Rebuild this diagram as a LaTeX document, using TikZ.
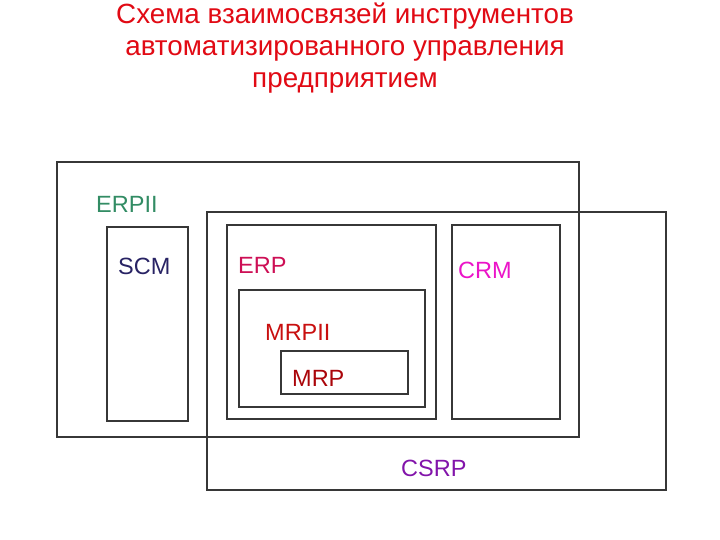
\documentclass[tikz,border=0pt]{standalone}
\usepackage{fontspec}
\setmainfont{Liberation Sans}
\definecolor{titlered}{RGB}{225,10,20}
\definecolor{erpii}{RGB}{50,140,100}
\definecolor{scm}{RGB}{40,35,100}
\definecolor{erp}{RGB}{205,15,85}
\definecolor{crm}{RGB}{235,20,200}
\definecolor{mrpii}{RGB}{200,15,15}
\definecolor{mrp}{RGB}{170,5,10}
\definecolor{csrp}{RGB}{130,20,170}
\definecolor{frame}{RGB}{55,55,55}
\tikzset{
  box/.style={draw=frame, line width=1.3pt},
  lbl/.style={anchor=west, inner sep=0pt, font=\fontsize{23.5}{28}\selectfont},
}
\begin{document}
\begin{tikzpicture}[x=1pt,y=-1pt]
\useasboundingbox (0,0) rectangle (720,540);
\node[align=center, text=titlered, font=\fontsize{27.8}{32}\selectfont, inner sep=0pt] (title) at (345,48)
  {Схема взаимосвязей инструментов\\автоматизированного управления\\предприятием};
\draw[box] (57,162) rectangle (579,437);
\draw[box] (207,212) rectangle (666,490);
\draw[box] (107,227) rectangle (188,421);
\draw[box] (227,225) rectangle (436,419);
\draw[box] (452,225) rectangle (560,419);
\draw[box] (239,290) rectangle (425,407);
\draw[box] (281,351) rectangle (408,394);
\node[lbl, text=erpii] (lerpii) at (96,204) {ERPII};
\node[lbl, text=scm] (lscm) at (118,266) {SCM};
\node[lbl, text=erp] (lerp) at (238,265) {ERP};
\node[lbl, text=crm] (lcrm) at (458,270) {CRM};
\node[lbl, text=mrpii] (lmrpii) at (265,332) {MRPII};
\node[lbl, text=mrp] (lmrp) at (292,378) {MRP};
\node[lbl, text=csrp] (lcsrp) at (401,468) {CSRP};
\end{tikzpicture}
\end{document}
